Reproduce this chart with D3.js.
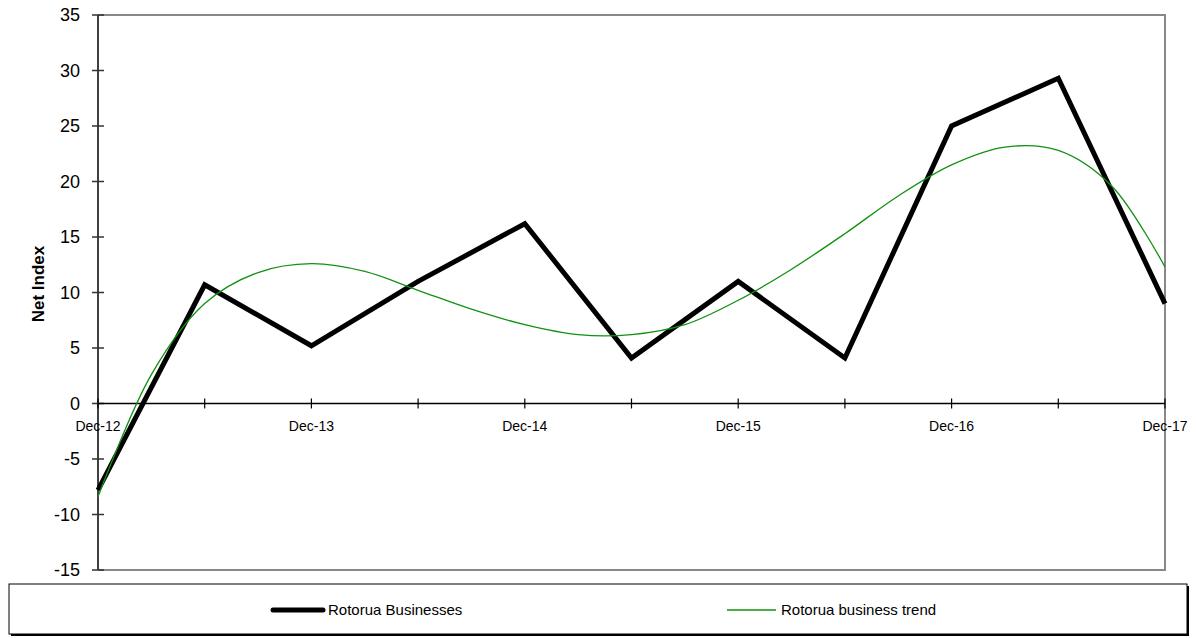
<!DOCTYPE html>
<html>
<head>
<meta charset="utf-8">
<script src="https://cdn.jsdelivr.net/npm/d3@7"></script>
<style>
  html, body { margin: 0; padding: 0; background: #fff; }
  svg { display: block; font-family: Arial, "Liberation Sans", sans-serif; }
</style>
</head>
<body>
<svg id="chart" width="1196" height="638"></svg>
<script>
// half-year periods, Dec-12 .. Dec-17
var periods = ["Dec-12", "Jun-13", "Dec-13", "Jun-14", "Dec-14", "Jun-15",
               "Dec-15", "Jun-16", "Dec-16", "Jun-17", "Dec-17"];
var businesses = [-7.8, 10.7, 5.2, 11.0, 16.2, 4.1, 11.0, 4.1, 25.0, 29.3, 9.0];

// trend line (position in periods, value)
var trendPos = [0, 0.5, 1, 1.5, 2, 2.5, 3, 3.5, 4, 4.5, 5, 5.5, 6, 6.5, 7, 7.5, 8, 8.5, 9, 9.5, 10];
var trendVals = [-8.4, 2.6, 9.0, 11.8, 12.6, 11.9, 10.2, 8.5, 7.1, 6.2, 6.2, 7.1, 9.3, 12.1, 15.3, 18.7, 21.5, 23.1, 22.8, 19.6, 12.3];

var yTicks = [-15, -10, -5, 0, 5, 10, 15, 20, 25, 30, 35];
var seriesNames = ["Rotorua Businesses", "Rotorua business trend"];

(function () {
  'use strict';

  var svg = d3.select("#chart");

  var left = 98, right = 1165, top = 15, bottom = 570;

  var x = d3.scaleLinear().domain([0, periods.length - 1]).range([left, right]);
  var y = d3.scaleLinear().domain([-15, 35]).range([bottom, top]);

  // plot frame (grey top/right/bottom)
  svg.append("path")
    .attr("d", "M" + left + "," + top + "H" + right + "V" + bottom + "H" + left)
    .attr("fill", "none")
    .attr("stroke", "#888")
    .attr("stroke-width", 2);

  // y axis
  svg.append("line")
    .attr("x1", left).attr("x2", left)
    .attr("y1", top).attr("y2", bottom)
    .attr("stroke", "#404040")
    .attr("stroke-width", 2);

  svg.append("g").selectAll("line")
    .data(yTicks)
    .enter().append("line")
      .attr("x1", left - 6).attr("x2", left + 6)
      .attr("y1", function (d) { return y(d); })
      .attr("y2", function (d) { return y(d); })
      .attr("stroke", "#333")
      .attr("stroke-width", 1.5);

  svg.append("g").selectAll("text")
    .data(yTicks)
    .enter().append("text")
      .attr("x", 80)
      .attr("y", function (d) { return y(d); })
      .attr("dy", "0.35em")
      .attr("text-anchor", "end")
      .attr("font-size", 18)
      .attr("fill", "#000")
      .text(function (d) { return d; });

  // zero line with crossing ticks
  svg.append("line")
    .attr("x1", left).attr("x2", right)
    .attr("y1", y(0)).attr("y2", y(0))
    .attr("stroke", "#000")
    .attr("stroke-width", 1.5);

  svg.append("g").selectAll("line")
    .data(periods)
    .enter().append("line")
      .attr("x1", function (d, i) { return x(i); })
      .attr("x2", function (d, i) { return x(i); })
      .attr("y1", y(0) - 5)
      .attr("y2", y(0) + 5)
      .attr("stroke", "#000")
      .attr("stroke-width", 1.2);

  svg.append("g").selectAll("text")
    .data(periods)
    .enter().filter(function (d, i) { return i % 2 === 0; })
    .append("text")
      .attr("x", function (d, i) { return x(i * 2); })
      .attr("y", y(0) + 27)
      .attr("text-anchor", "middle")
      .attr("font-size", 14)
      .attr("fill", "#000")
      .text(function (d) { return d; });

  // axis title
  svg.append("text")
    .attr("transform", "translate(44,284) rotate(-90)")
    .attr("text-anchor", "middle")
    .attr("font-size", 17)
    .attr("font-weight", "bold")
    .text("Net Index");

  // series
  var line = d3.line()
    .x(function (d, i) { return x(i); })
    .y(function (d) { return y(d); });

  svg.append("path")
    .datum(businesses)
    .attr("d", line)
    .attr("fill", "none")
    .attr("stroke", "#000")
    .attr("stroke-width", 5)
    .attr("stroke-linejoin", "miter");

  var trendLine = d3.line()
    .x(function (d, i) { return x(trendPos[i]); })
    .y(function (d) { return y(d); })
    .curve(d3.curveCatmullRom);

  svg.append("path")
    .datum(trendVals)
    .attr("d", trendLine)
    .attr("fill", "none")
    .attr("stroke", "#119111")
    .attr("stroke-width", 1.3);

  // legend box with shadow
  var lg = svg.append("g");
  lg.append("rect")
    .attr("x", 11).attr("y", 586)
    .attr("width", 1178).attr("height", 50)
    .attr("fill", "#000");
  lg.append("rect")
    .attr("x", 9).attr("y", 584)
    .attr("width", 1178).attr("height", 50)
    .attr("fill", "#fff")
    .attr("stroke", "#000")
    .attr("stroke-width", 1);

  var legendItems = [
    { name: seriesNames[0], x1: 273, x2: 323, color: "#000", width: 5 },
    { name: seriesNames[1], x1: 727, x2: 776, color: "#119111", width: 1.3 }
  ];

  var item = lg.selectAll("g.item")
    .data(legendItems)
    .enter().append("g")
      .attr("class", "item");

  item.append("line")
    .attr("x1", function (d) { return d.x1; })
    .attr("x2", function (d) { return d.x2; })
    .attr("y1", 610).attr("y2", 610)
    .attr("stroke", function (d) { return d.color; })
    .attr("stroke-width", function (d) { return d.width; })
    .attr("stroke-linecap", function (d) { return d.width > 2 ? "round" : "butt"; });

  item.append("text")
    .attr("x", function (d) { return d.x2 + 5; })
    .attr("y", 610)
    .attr("dy", "0.35em")
    .attr("font-size", 15)
    .attr("fill", "#000")
    .text(function (d) { return d.name; });
}());
</script>
</body>
</html>
